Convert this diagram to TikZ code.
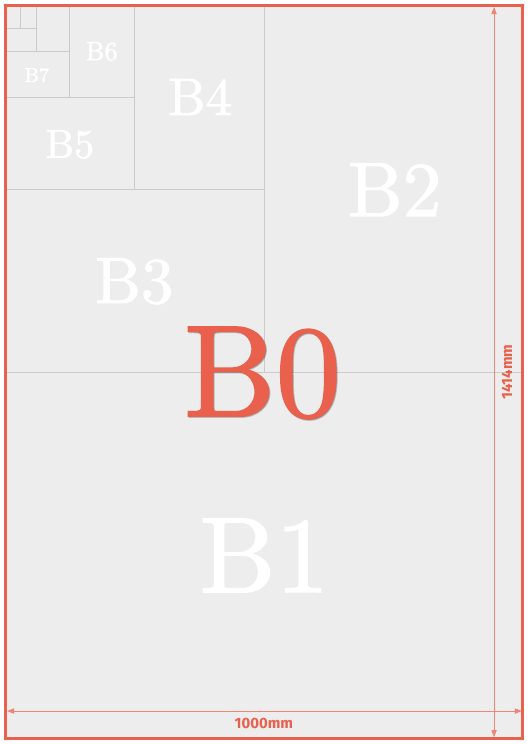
\documentclass[tikz,border=0pt]{standalone}
\usepackage{fontspec}
\newfontfamily\dimfont{Fira Sans}
\newfontfamily\sizefont{lmroman10-regular.otf}[FakeBold=1.5]
\usetikzlibrary{arrows.meta}
\definecolor{framered}{HTML}{E9604C}
\definecolor{dimred}{HTML}{EE8676}
\definecolor{paper}{HTML}{EDEDED}
\definecolor{gridline}{HTML}{CACACA}
\tikzset{
  sheet/.style={draw=gridline, line width=0.6pt},
  fmt/.style={text=white, anchor=base, inner sep=0pt},
  dim/.style={draw=dimred, line width=0.6pt, {Triangle[length=4pt,width=3pt]}-{Triangle[length=4pt,width=3pt]}},
  dimlabel/.style={text=framered, font=\dimfont\bfseries\fontsize{8.5}{9}\selectfont, inner sep=0pt}
}
\begin{document}
\begin{tikzpicture}[x=0.0103cm, y=-0.010326cm]
\useasboundingbox (-13.6,-13.56) rectangle (1013.6,1427.3);
% paper
\fill[paper] (0,0) rectangle (1000,1414);
% sheet sizes
\draw[sheet] (0,707) -- (1000,707);
\draw[sheet] (500,0) -- (500,707);
\draw[sheet] (0,353) -- (500,353);
\draw[sheet] (248,0) -- (248,353);
\draw[sheet] (0,175) -- (248,175);
\draw[sheet] (121,0) -- (121,175);
\draw[sheet] (0,86) -- (121,86);
\draw[sheet] (58,0) -- (58,86);
\draw[sheet] (0,41) -- (58,41);
\draw[sheet] (27,0) -- (27,41);
% labels
\node[fmt, font=\sizefont\fontsize{61}{61}\selectfont] (b1) at (500,1133) {B1};
\node[fmt, font=\sizefont\fontsize{44}{44}\selectfont] (b2) at (753,405) {B2};
\node[fmt, font=\sizefont\fontsize{37}{37}\selectfont] (b3) at (247,573) {B3};
\node[fmt, font=\sizefont\fontsize{30}{30}\selectfont] (b4) at (375,209) {B4};
\node[fmt, font=\sizefont\fontsize{23}{23}\selectfont] (b5) at (122,292) {B5};
\node[fmt, font=\sizefont\fontsize{15}{15}\selectfont] (b6) at (184,103) {B6};
\node[fmt, font=\sizefont\fontsize{11.5}{12}\selectfont] (b7) at (58,145) {B7};
\node[anchor=base, inner sep=0pt, text=black, opacity=.22, font=\sizefont\fontsize{74}{74}\selectfont] (b0shadow) at (498,794) {B0};
\node[anchor=base, inner sep=0pt, text=framered, font=\sizefont\fontsize{74}{74}\selectfont] (b0) at (496,792) {B0};
% frame
\draw[framered, line width=1.7pt] (-3,-3) rectangle (1002,1417);
% dimensions
\coordinate (top) at (946,0);
\coordinate (bottom) at (946,1414);
\coordinate (left) at (0,1363.5);
\coordinate (right) at (1000,1363.5);
\draw[dim] (top) -- (bottom);
\draw[dim] (left) -- (right);
\node[dimlabel, rotate=90] (height) at (971,707) {1414mm};
\node[dimlabel] (width) at (499,1387) {1000mm};
\end{tikzpicture}
\end{document}
